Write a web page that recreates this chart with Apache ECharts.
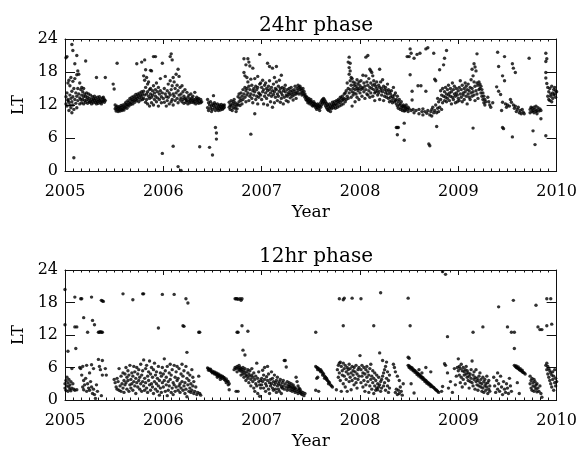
<!DOCTYPE html>
<html>
<head>
<meta charset="utf-8">
<script src="https://cdn.jsdelivr.net/npm/echarts@6/dist/echarts.min.js"></script>
<style>html,body{margin:0;padding:0;background:#fff}#c{width:580px;height:451px}</style>
</head>
<body>
<div id="c"></div>
<script>
// ---- Data: [fraction of year, LT hours] ----
var years = [2005, 2006, 2007, 2008, 2009];
var yTicks = [0, 6, 12, 18, 24];
var titles = ['24hr phase', '12hr phase'];

// 24hr phase
var p24_2005 = [[.01,13.5],[.01,12.2],[.02,20.8],[.02,11.8],[.02,14.2],[.03,12.8],[.03,16.0],[.03,13.0],[.04,11.0],[.04,16.5],[.04,12.5],[.05,13.8],[.05,15.5],[.05,12.0],[.06,17.0],[.06,13.2],[.06,11.5],[.07,23.0],[.07,14.5],[.07,12.6],[.07,10.6],[.08,21.9],[.08,16.3],[.08,13.5],[.08,12.0],[.09,2.4],[.09,15.0],[.09,11.2],[.10,13.0],[.10,19.5],[.10,16.8],[.11,12.3],[.11,14.2],[.12,21.0],[.12,17.5],[.12,13.6],[.12,11.5],[.13,18.2],[.13,15.0],[.13,12.8],[.14,17.6],[.14,14.0],[.15,16.0],[.15,13.3],[.15,12.2],[.01,20.6],
[.16,14.8],[.16,13.0],[.17,15.2],[.17,13.8],[.17,12.4],[.18,14.4],[.18,13.0],[.19,15.0],[.19,13.5],[.19,12.2],[.2,14.0],[.2,12.8],[.21,20.0],[.21,13.6],[.21,12.5],[.22,14.2],[.22,13.0],[.23,13.4],[.23,12.3],[.24,14.0],[.24,12.8],[.25,13.2],[.25,12.5],[.26,13.8],[.26,12.6],[.27,13.0],[.27,12.2],[.28,13.5],[.28,12.7],[.29,13.1],[.29,12.4],[.30,12.9],[.30,13.6],[.31,12.5],[.31,13.2],[.32,17.0],[.32,12.8],[.32,12.2],[.33,13.4],[.33,12.6],[.34,13.0],[.34,12.3],[.35,12.8],[.35,13.5],[.36,12.5],[.36,13.1],[.37,12.7],[.37,12.2],[.38,13.3],[.38,12.6],[.39,12.9],[.39,13.4],[.40,12.5],[.40,13.0],[.41,17.0],[.41,12.8],
[.49,15.8],[.50,14.9],[.51,12.0],[.51,11.3],[.52,11.6],[.52,10.9],[.53,19.6],[.53,11.2],[.53,11.8],[.54,10.8],[.54,11.4],[.55,11.1],[.55,11.7],[.56,10.9],[.56,11.5],[.57,11.2],[.57,11.9],[.58,11.0],[.58,11.6],[.59,11.3],[.59,12.0],[.60,11.1],[.60,11.7],
[.61,11.5],[.61,12.2],[.62,11.8],[.62,12.5],[.63,11.4],[.63,12.1],[.64,12.0],[.64,12.8],[.65,11.8],[.65,12.5],[.66,12.3],[.66,13.2],[.67,12.1],[.67,12.9],[.68,12.6],[.68,13.4],[.69,12.2],[.69,13.0],[.70,12.8],[.70,13.6],[.71,12.5],[.71,13.3],[.72,13.0],[.72,13.9],[.73,19.5],[.73,12.8],[.73,13.5],[.74,13.2],[.74,14.0],[.75,12.6],[.75,13.7],[.76,13.3],[.76,14.2],[.77,12.9],[.77,13.8],[.78,19.8],[.78,13.5],[.78,14.4],[.79,13.0],[.79,14.0],
[.80,17.3],[.80,14.5],[.80,13.2],[.81,20.2],[.81,16.5],[.81,13.8],[.82,18.4],[.82,15.2],[.82,12.5],[.83,17.0],[.83,14.0],[.83,13.0],[.84,15.8],[.84,14.4],[.84,12.2],[.85,16.2],[.85,13.6],[.86,14.8],[.86,13.2],[.86,11.8],[.87,18.3],[.87,15.0],[.87,14.0],[.88,18.2],[.88,13.4],[.88,12.4],[.89,14.6],[.89,13.8],[.90,20.8],[.90,15.5],[.90,12.0],[.91,14.2],[.91,13.0],[.92,20.8],[.92,14.8],[.92,13.6],[.93,16.0],[.93,12.6],[.94,14.4],[.94,13.3],[.95,15.2],[.95,11.8],[.96,14.0],[.96,13.0],[.97,16.8],[.97,14.6],[.98,13.5],[.98,12.4],[.99,19.6],[.99,3.2],[.99,14.2]];
var p24_2006 = [[.00,13.2],[.01,15.0],[.01,12.5],[.02,14.0],[.02,17.2],[.03,13.5],[.03,11.8],[.04,14.6],[.04,12.8],[.05,15.8],[.05,13.4],[.06,14.2],[.06,12.2],[.07,20.8],[.07,16.4],[.07,13.8],[.08,21.3],[.08,14.8],[.08,12.6],[.09,20.2],[.09,15.5],[.09,13.0],[.10,4.5],[.10,17.0],[.10,14.0],[.10,12.0],[.11,16.2],[.11,13.6],[.12,15.0],[.12,12.8],[.13,17.6],[.13,14.2],[.14,15.6],[.14,13.2],[.15,0.8],[.15,18.5],[.15,14.6],[.15,12.4],[.16,17.2],[.16,13.8],[.17,15.2],[.17,12.9],[.18,0.1],[.18,14.0],[.18,13.3],[.19,15.5],[.19,12.6],[.20,14.4],[.20,13.0],[.21,13.6],[.21,12.3],[.22,14.8],[.22,13.2],[.23,13.0],[.23,12.5],[.24,14.3],[.24,12.8],[.25,13.4],[.25,12.2],[.26,13.8],[.26,12.7],[.27,13.1],[.27,12.4],[.28,14.0],[.28,12.9],[.29,13.3],[.29,12.5],[.30,12.8],[.30,13.6],[.31,12.4],[.31,13.0],[.32,14.3],[.32,12.6],[.33,13.1],[.33,12.2],[.34,12.8],[.34,13.4],[.35,12.5],[.35,13.0],[.36,12.3],[.36,13.2],[.37,4.4],[.37,12.7],[.38,12.4],[.38,13.0],[.39,12.6],
[.45,13.0],[.45,11.5],[.46,12.4],[.46,11.0],[.47,12.0],[.47,4.3],[.48,12.6],[.48,11.4],[.49,11.8],[.49,10.8],[.50,12.2],[.50,11.2],[.50,2.9],[.51,11.9],[.51,13.7],[.52,11.5],[.52,12.4],[.53,7.9],[.53,11.0],[.53,12.1],[.54,6.9],[.54,11.6],[.54,5.8],[.55,11.3],[.55,12.2],[.56,11.8],[.56,11.0],[.57,12.0],[.57,11.4],[.58,11.7],[.58,11.1],[.59,12.1],[.59,11.5],[.60,11.8],[.60,11.2],[.61,11.9],[.61,11.4],[.62,12.0],[.62,11.6],
[.67,12.5],[.67,11.6],[.68,12.0],[.68,11.2],[.69,12.8],[.69,11.8],[.70,12.2],[.70,11.0],[.71,12.6],[.71,11.5],[.72,13.0],[.72,12.0],[.73,11.4],[.73,12.4],[.74,10.8],[.74,11.8],[.75,12.2],[.75,11.3],[.76,13.5],[.76,12.0],[.77,14.0],[.77,12.6],[.78,13.2],[.78,11.9],
[.79,14.2],[.79,12.8],[.80,13.6],[.80,12.2],[.81,14.8],[.81,13.0],[.82,20.4],[.82,17.9],[.82,14.0],[.83,17.3],[.83,15.2],[.83,13.4],[.84,19.3],[.84,14.6],[.84,12.6],[.85,17.0],[.85,15.0],[.85,13.8],[.86,20.4],[.86,16.2],[.86,14.2],[.87,19.8],[.87,15.4],[.87,12.8],[.88,19.1],[.88,14.8],[.88,13.6],[.89,6.7],[.89,16.7],[.89,14.0],[.90,15.6],[.90,13.2],[.91,18.7],[.91,14.6],[.91,12.4],[.92,15.0],[.92,13.8],[.93,10.4],[.93,16.8],[.93,14.4],[.94,15.4],[.94,13.0],[.95,14.8],[.95,13.6],[.96,17.2],[.96,15.2],[.96,12.2],[.97,14.2],[.97,13.4],[.98,21.2],[.98,15.8],[.98,14.0],[.99,16.0],[.99,13.8]];
var p24_2007 = [[.00,15.2],[.00,13.0],[.01,14.4],[.01,16.5],[.02,14.8],[.02,12.2],[.03,15.6],[.03,13.6],[.04,14.2],[.04,16.0],[.05,15.0],[.05,13.2],[.06,19.6],[.06,14.6],[.06,12.0],[.07,15.4],[.07,13.8],[.08,19.0],[.08,14.8],[.08,16.4],[.09,14.2],[.09,12.6],[.10,15.2],[.10,13.6],[.11,18.7],[.11,14.6],[.11,11.6],[.12,15.8],[.12,13.9],[.13,17.0],[.13,14.4],[.13,12.4],[.14,15.0],[.14,13.4],[.15,19.0],[.15,14.8],[.15,16.2],[.16,14.0],[.16,12.8],[.17,15.4],[.17,13.6],[.18,16.5],[.18,14.5],[.19,15.0],[.19,12.5],[.20,17.4],[.20,14.2],[.20,13.2],[.21,15.2],[.21,13.8],[.22,14.6],[.22,12.2],[.23,15.0],[.23,13.4],[.24,14.4],[.24,15.6],[.25,13.8],[.25,12.8],[.26,14.8],[.26,13.6],[.27,14.2],[.27,12.6],[.28,15.0],[.28,13.9],[.29,14.5],[.29,13.3],[.30,14.0],[.30,15.2],[.31,13.6],[.31,14.6],[.32,14.2],[.32,12.9],[.33,14.8],[.33,13.8],[.34,14.4],[.34,15.4],[.35,14.0],[.35,13.2],[.36,15.0],[.36,14.2],[.37,15.6],[.37,14.6],[.38,15.2],[.38,14.0],[.39,15.4],[.39,14.8],[.40,15.0],[.40,14.2],[.41,14.6],[.41,13.8],[.42,14.2],[.42,15.0],[.43,13.8],[.43,14.5],[.44,13.4],[.44,14.0],[.45,13.6],[.45,13.0],
[.46,13.4],[.46,12.8],[.47,13.0],[.47,12.4],[.48,13.2],[.48,12.6],[.49,12.8],[.49,12.2],[.50,12.5],[.50,13.0],[.51,12.0],[.51,12.6],[.52,12.3],[.52,11.8],[.53,12.6],[.53,12.0],[.54,11.8],[.54,12.3],[.55,11.5],[.55,12.1],[.56,11.8],[.56,11.2],[.57,12.2],[.57,11.6],[.58,12.0],[.58,11.4],[.59,11.8],[.59,11.0],[.60,12.4],[.60,11.6],[.61,12.8],[.61,12.0],[.62,13.0],[.62,12.4],[.63,13.2],[.63,12.6],[.64,12.9],[.64,12.2],[.65,12.6],[.65,11.8],[.66,12.3],[.66,11.5],[.67,12.0],[.67,11.2],[.68,11.8],[.68,11.0],[.69,12.2],[.69,11.4],[.70,11.6],[.70,10.8],[.71,12.0],[.71,11.3],[.72,11.8],[.72,12.5],[.73,12.2],[.73,11.5],[.74,12.6],[.74,11.9],[.75,12.2],[.75,11.4],[.76,12.8],[.76,12.0],[.77,12.6],[.77,11.6],[.78,13.0],[.78,12.3],[.79,12.8],[.79,11.8],[.80,13.4],[.80,12.5],[.81,13.2],[.81,12.0],[.82,13.6],[.82,12.8],[.83,13.0],[.83,12.2],[.84,14.0],[.84,13.2],[.85,14.2],[.85,12.6],
[.86,14.6],[.86,13.0],[.87,16.0],[.87,13.6],[.88,19.8],[.88,15.0],[.88,13.2],[.89,20.7],[.89,18.8],[.89,17.6],[.89,14.2],[.90,19.6],[.90,18.2],[.90,16.4],[.90,14.8],[.91,17.0],[.91,15.6],[.91,13.4],[.92,16.8],[.92,14.4],[.92,11.8],[.93,16.2],[.93,15.0],[.93,13.8],[.94,15.6],[.94,14.2],[.95,16.0],[.95,14.8],[.95,12.6],[.96,15.4],[.96,14.0],[.97,16.6],[.97,15.0],[.97,13.4],[.98,15.8],[.98,14.6],[.99,16.2],[.99,15.0],[.99,13.0]];
var p24_2008 = [[.00,15.5],[.00,14.2],[.01,16.4],[.01,14.8],[.02,15.2],[.02,13.6],[.03,17.4],[.03,15.0],[.04,16.0],[.04,14.4],[.05,15.4],[.05,13.2],[.06,20.7],[.06,17.3],[.06,14.8],[.07,16.2],[.07,14.0],[.08,21.0],[.08,15.6],[.08,13.8],[.09,16.8],[.09,14.6],[.10,18.5],[.10,15.2],[.10,13.4],[.11,18.2],[.11,16.0],[.11,14.2],[.12,17.9],[.12,15.0],[.13,17.3],[.13,15.6],[.13,13.6],[.14,16.4],[.14,14.8],[.15,15.8],[.15,14.2],[.15,12.8],[.16,15.4],[.16,14.4],[.17,16.2],[.17,15.0],[.18,14.6],[.18,13.8],[.19,15.6],[.19,14.2],[.20,18.5],[.20,15.2],[.20,13.0],[.21,16.2],[.21,14.6],[.22,15.0],[.22,13.8],[.23,16.6],[.23,14.4],[.24,15.4],[.24,12.8],[.25,14.8],[.25,13.6],[.26,15.2],[.26,14.2],[.27,14.6],[.27,13.4],[.28,15.8],[.28,14.0],[.29,14.8],[.29,13.2],[.30,14.4],[.30,12.6],
[.31,14.0],[.31,13.4],[.32,14.6],[.32,12.8],[.33,13.6],[.33,12.4],[.34,15.2],[.34,13.2],[.35,13.8],[.35,12.6],[.36,14.2],[.36,12.8],[.37,7.9],[.37,13.0],[.37,12.2],[.38,7.9],[.38,6.6],[.38,13.6],[.38,11.8],[.39,7.9],[.39,12.6],[.39,11.4],[.40,13.0],[.40,12.0],[.41,12.2],[.41,11.2],[.42,12.6],[.42,11.6],[.43,11.8],[.43,11.0],[.44,12.0],[.44,11.4],[.45,8.7],[.45,5.6],[.45,11.8],[.45,10.9],[.46,11.6],[.46,11.0],[.47,11.4],[.47,12.0],[.48,20.8],[.48,11.2],[.49,11.6],[.49,10.8],[.50,20.8],[.50,11.3],
[.51,22.2],[.51,17.5],[.52,21.4],[.52,11.0],[.53,14.5],[.53,12.9],[.54,11.2],[.55,20.5],[.55,10.6],[.57,11.0],[.58,21.2],[.59,15.5],[.60,11.2],[.60,10.4],[.61,21.4],[.62,15.5],[.63,10.8],[.64,11.3],[.64,10.2],[.66,10.8],[.67,22.2],[.67,14.5],[.68,10.5],[.69,22.4],[.69,11.0],[.70,4.9],[.71,10.2],[.71,4.6],[.72,10.8],[.73,11.2],[.73,10.0],[.74,11.6],[.75,10.6],[.75,21.4],[.76,16.7],[.76,11.0],[.77,16.4],[.77,12.0],[.78,8.1],[.78,10.6],[.79,11.4],[.79,13.2],[.80,10.8],[.80,12.6],[.81,18.4],[.81,11.6],[.82,13.0],[.82,14.6],[.83,11.2],[.83,13.8],[.84,15.0],[.84,12.4],[.85,19.3],[.85,13.6],[.86,20.5],[.86,14.4],[.86,12.8],[.87,13.4],[.87,15.2],[.88,21.9],[.88,14.0],[.88,12.6],[.89,14.8],[.89,13.2],[.90,15.6],[.90,13.8],[.91,14.2],[.91,12.8],[.92,15.0],[.92,13.6],[.93,14.4],[.93,12.2],[.94,16.0],[.94,13.4],[.95,14.8],[.95,13.0],[.96,15.4],[.96,14.0],[.97,13.6],[.97,12.4],[.98,15.0],[.98,14.2],[.99,13.8],[.99,12.6]];
var p24_2009 = [[.00,14.6],[.00,13.2],[.01,15.2],[.01,12.8],[.02,14.0],[.02,16.4],[.03,14.8],[.03,13.4],[.04,15.6],[.04,12.6],[.05,14.2],[.05,13.8],[.06,15.0],[.06,13.0],[.07,14.4],[.07,16.0],[.08,15.4],[.08,13.6],[.09,14.8],[.09,12.2],[.10,14.0],[.10,15.8],[.11,13.4],[.11,14.6],[.12,15.2],[.12,13.0],[.13,14.2],[.13,16.6],[.14,18.5],[.14,15.0],[.14,13.6],[.15,7.8],[.15,17.3],[.15,14.4],[.16,19.5],[.16,16.2],[.16,13.8],[.17,18.9],[.17,15.4],[.17,12.8],[.18,18.2],[.18,14.6],[.19,21.3],[.19,16.0],[.19,14.0],[.20,15.6],[.20,13.2],[.21,16.2],[.21,14.8],[.22,15.8],[.22,15.0],[.23,15.4],[.23,14.2],[.24,14.8],[.24,13.6],[.25,14.2],[.25,13.0],[.26,13.6],[.26,12.4],[.27,13.0],[.27,12.0],[.28,12.6],
[.30,13.4],[.31,12.6],[.32,12.0],[.33,11.6],[.35,12.4],[.40,21.6],[.47,20.8],[.41,19.0],[.45,17.3],[.47,16.4],[.39,15.3],[.41,14.5],[.43,13.9],[.45,12.5],[.48,12.2],[.45,7.9],[.46,7.7],[.44,11.0],[.49,11.6],[.50,12.0],
[.55,19.5],[.56,18.7],[.58,17.9],[.54,12.5],[.56,12.0],[.57,11.4],[.58,11.8],[.59,10.8],[.60,11.2],[.61,11.6],[.62,10.6],[.63,11.0],[.64,10.4],[.65,11.2],[.66,10.7],[.67,10.4],[.55,6.2],[.52,11.8],[.53,13.0],
[.72,20.5],[.73,11.2],[.73,10.6],[.74,11.6],[.75,10.8],[.75,11.4],[.76,7.3],[.76,11.0],[.77,10.6],[.77,11.6],[.78,4.8],[.78,11.2],[.79,10.8],[.79,11.8],[.80,11.0],[.80,10.4],[.81,11.5],[.82,10.9],[.83,11.3],[.84,9.5],[.84,11.0],
[.89,21.4],[.89,19.9],[.90,20.4],[.89,17.9],[.89,16.9],[.90,15.9],[.89,6.4],[.91,15.2],[.91,13.6],[.92,14.4],[.92,13.0],[.93,15.0],[.93,12.8],[.94,14.0],[.94,13.6],[.95,15.4],[.95,12.6],[.96,14.2],[.96,13.2],[.97,14.8],[.97,13.8],[.98,15.2],[.98,14.0],[.99,14.6],[.99,13.4],[1.0,14.4]];

// 12hr phase
var p12_2005 = [[.00,20.4],[.10,19.0],[.16,18.7],[.17,18.7],[.27,19.0],[.37,18.4],[.38,18.3],[.39,18.2],[.59,19.6],[.69,18.5],[.79,19.6],[.80,19.6],[.99,19.5],
[.00,13.9],[.10,13.5],[.12,13.5],[.19,15.2],[.28,14.7],[.30,13.9],[.23,12.5],[.34,12.5],[.35,12.5],[.36,12.6],[.37,12.5],[.38,12.5],[.95,13.3],[.03,9.0],[.11,9.5],[.38,7.3],
[.00,3.0],[.00,2.2],[.01,3.6],[.01,1.8],[.02,2.6],[.02,4.2],[.03,3.2],[.03,1.6],[.04,2.4],[.04,3.8],[.05,2.0],[.05,2.8],[.06,3.4],[.06,1.7],[.07,2.2],[.07,5.8],[.08,3.0],[.09,2.0],[.10,1.8],[.12,1.9],
[.15,6.0],[.16,5.8],[.17,4.6],[.18,6.2],[.18,2.4],[.19,3.6],[.19,1.9],[.20,2.8],[.21,4.0],[.22,6.4],[.22,1.6],[.23,3.0],[.24,2.2],[.25,5.0],[.25,1.8],[.26,3.4],[.27,6.5],[.27,2.4],[.28,1.2],[.29,5.8],[.29,2.0],[.30,1.0],[.31,0.3],[.32,2.8],[.33,1.6],[.34,7.5],[.35,6.2],[.36,5.6],[.37,0.8],[.38,4.6],[.41,5.8],[.42,4.6],
[.50,3.8],[.51,3.2],[.52,2.4],[.53,4.0],[.53,2.0],[.54,3.4],[.55,1.8],[.55,5.8],[.56,2.6],[.57,4.4],[.57,1.6],[.58,3.0],[.59,5.0],[.59,2.2],[.60,3.6],[.60,1.4],[.61,4.8],[.61,2.8],[.62,6.0],[.62,3.2],[.63,4.2],[.63,2.0],[.64,5.4],[.64,3.6],[.65,1.6],[.65,4.6],[.66,2.8],[.66,6.4],[.67,3.8],[.67,2.2],[.68,5.0],[.68,3.0],[.69,4.4],[.69,1.8],[.70,6.2],[.70,3.4],[.71,2.6],[.71,5.2],[.72,4.0],[.72,1.2],[.73,3.2],[.73,6.0],[.74,4.8],[.74,2.4],[.75,3.6],[.75,5.6],[.76,2.0],[.76,4.2],[.77,6.6],[.77,3.0],[.78,1.6],[.78,4.6],[.79,3.4],[.79,5.4],[.80,2.6],[.80,7.4],[.81,4.0],[.81,1.8],[.82,5.8],[.82,3.2],[.83,2.2],[.83,6.4],[.84,4.4],[.84,1.4],[.85,3.6],[.85,5.2],[.86,7.2],[.86,2.8],[.87,4.8],[.87,1.8],[.88,3.0],[.88,6.0],[.89,4.2],[.89,2.4],[.90,5.6],[.90,1.2],[.91,3.4],[.91,6.8],[.92,2.0],[.92,4.6],[.93,5.2],[.93,3.0],[.94,1.6],[.94,4.0],[.95,6.2],[.95,2.6],[.96,3.6],[.96,0.9],[.97,5.0],[.97,2.2],[.98,4.4],[.98,1.4],[.99,3.2],[.99,6.0]];
var p12_2006 = [[.00,2.4],[.00,4.8],[.01,7.6],[.01,3.6],[.02,1.6],[.02,5.4],[.03,2.8],[.03,4.2],[.04,0.8],[.04,6.2],[.05,3.4],[.05,1.8],[.06,5.0],[.06,2.6],[.07,6.6],[.07,3.8],[.08,1.4],[.08,4.6],[.09,2.2],[.09,5.6],[.10,3.2],[.10,1.0],[.11,6.4],[.11,2.8],[.12,4.2],[.12,1.6],[.13,5.2],[.13,2.4],[.14,3.6],[.14,6.2],[.15,1.8],[.15,4.0],[.16,2.6],[.16,5.8],[.17,3.0],[.17,1.4],[.18,4.8],[.18,2.2],[.19,6.6],[.19,3.4],[.20,1.8],[.20,4.4],[.21,2.6],[.21,5.4],[.22,3.2],[.22,1.2],[.23,6.2],[.23,2.0],[.24,4.0],[.24,0.6],[.25,2.8],[.25,5.0],[.26,1.6],[.26,3.6],[.27,2.2],[.27,4.6],[.28,1.4],[.28,3.0],[.29,5.6],[.29,1.8],[.30,2.6],[.30,4.2],[.31,1.2],[.31,3.4],[.32,1.6],[.33,2.4],[.34,1.0],[.35,1.4],[.36,4.4],[.37,1.2],[.38,0.9],
[.11,19.5],[.23,18.7],[.25,17.9],[.20,13.7],[.21,13.6],[.24,8.8],[.36,12.5],[.37,12.5],
[.45,5.9],[.46,5.8],[.46,5.5],[.47,5.6],[.48,5.4],[.48,5.7],[.49,5.2],[.50,5.3],[.50,5.0],[.51,5.1],[.52,4.8],[.52,5.2],[.53,4.9],[.54,4.6],[.54,5.0],[.55,4.7],[.56,4.4],[.56,4.8],[.57,4.5],[.58,4.2],[.58,4.6],[.59,4.3],[.60,4.0],[.60,4.4],[.61,4.2],[.62,3.8],[.62,4.1],[.63,3.6],[.64,3.9],[.64,3.2],[.65,3.5],[.66,2.8],[.66,3.4],[.67,1.9],[.67,3.0],[.55,4.2],[.58,3.8],
[.73,18.7],[.74,18.7],[.75,18.7],[.76,18.6],[.78,18.7],[.79,18.4],[.80,18.7],[.75,12.5],[.76,12.5],[.80,13.7],[.86,12.7],[.81,9.2],[.83,8.3],
[.72,5.6],[.73,6.0],[.74,5.8],[.74,1.6],[.75,6.2],[.75,5.2],[.76,5.9],[.76,1.6],[.77,5.6],[.77,6.4],[.78,5.4],[.78,6.0],[.79,5.8],[.79,4.6],[.80,5.2],[.80,5.6],[.81,6.0],[.81,4.8],[.82,5.4],[.82,4.2],[.83,5.0],[.83,5.8],[.84,4.6],[.84,3.6],[.85,5.2],[.85,4.4],[.86,4.0],[.86,5.6],[.87,4.8],[.87,3.2],[.88,4.4],[.88,5.4],[.89,3.8],[.89,2.6],[.90,4.6],[.90,5.8],[.91,3.4],[.91,4.2],[.92,2.2],[.92,5.0],[.93,3.8],[.93,1.6],[.94,4.4],[.94,3.0],[.95,2.6],[.95,6.8],[.96,4.0],[.96,1.2],[.97,3.4],[.97,5.2],[.98,2.8],[.98,0.7],[.99,3.6],[.99,2.2]];
var p12_2007 = [[.00,4.0],[.00,2.8],[.01,5.5],[.01,3.4],[.02,4.6],[.02,2.2],[.03,3.8],[.03,6.0],[.04,3.0],[.04,1.6],[.05,4.3],[.05,2.6],[.06,6.2],[.06,3.6],[.07,2.0],[.07,4.8],[.08,3.2],[.08,1.2],[.09,3.8],[.09,2.6],[.10,5.2],[.10,3.0],[.11,2.2],[.11,4.0],[.12,3.4],[.12,1.8],[.13,2.8],[.13,4.6],[.14,3.2],[.14,2.0],[.15,3.6],[.15,1.4],[.16,2.6],[.16,4.2],[.17,3.0],[.17,2.0],[.18,3.4],[.18,1.6],[.19,2.8],[.19,3.8],[.20,2.4],[.20,1.2],[.21,3.2],[.21,2.2],[.22,2.6],[.22,3.6],[.23,7.3],[.23,2.0],[.24,7.3],[.24,3.0],[.25,6.1],[.25,2.4],[.26,3.4],[.26,1.8],[.27,2.8],[.27,2.2],[.28,2.5],[.28,3.2],[.29,1.8],[.29,2.6],[.30,2.2],[.30,3.0],[.31,2.4],[.31,1.6],[.32,2.8],[.32,2.0],[.33,1.8],[.33,2.4],[.34,2.2],[.34,1.4],[.35,4.2],[.35,2.0],[.36,3.4],[.36,1.6],[.37,2.6],[.37,1.2],[.38,2.2],[.38,1.8],[.39,1.4],[.39,2.0],[.40,1.2],[.40,1.6],[.41,1.0],[.42,1.4],[.43,0.8],[.44,1.2],
[.55,12.5],
[.55,6.2],[.56,6.0],[.57,5.9],[.57,5.6],[.58,5.8],[.59,5.5],[.60,5.6],[.60,5.2],[.61,5.3],[.62,5.0],[.62,4.6],[.63,4.8],[.64,4.4],[.64,4.0],[.65,4.2],[.66,3.8],[.66,4.0],[.67,3.6],[.68,3.4],[.68,3.0],[.69,3.2],[.70,2.8],[.71,2.6],[.72,2.4],[.56,4.0],[.57,4.2],[.58,1.6],[.55,1.8],
[.76,1.9],[.77,5.6],[.78,6.4],[.78,4.2],[.79,6.8],[.79,5.0],[.80,7.0],[.80,3.6],[.81,6.2],[.81,1.6],[.82,5.4],[.82,4.6],[.83,6.8],[.83,3.0],[.84,5.8],[.84,4.4],[.85,6.4],[.85,2.4],[.86,5.2],[.86,3.8],[.87,6.0],[.87,1.6],[.88,4.8],[.88,5.6],[.89,6.6],[.89,3.4],[.90,4.2],[.90,5.8],[.91,1.9],[.91,5.0],[.92,6.2],[.92,3.6],[.93,4.6],[.93,5.4],[.94,2.8],[.94,6.0],[.95,4.0],[.95,5.2],[.96,3.2],[.96,6.4],[.97,4.8],[.97,2.2],[.98,5.6],[.98,3.8],[.99,4.4],[.99,6.0],
[.79,18.7],[.83,18.5],[.84,18.8],[.92,18.8],[.83,13.7]];
var p12_2008 = [[.01,18.7],[.21,19.8],[.49,18.8],[.51,13.7],[.14,13.7],[.84,23.7],[.87,23.2],[.89,11.7],
[.00,8.2],[.01,5.6],[.01,3.2],[.02,6.4],[.02,4.4],[.03,2.4],[.03,5.0],[.04,6.0],[.04,3.6],[.05,1.6],[.05,4.8],[.06,5.6],[.06,2.8],[.07,4.2],[.07,6.2],[.08,3.4],[.08,5.2],[.09,1.4],[.09,4.6],[.10,5.8],[.10,2.6],[.11,3.8],[.11,6.6],[.12,4.4],[.12,2.0],[.13,5.4],[.13,3.2],[.14,1.2],[.14,4.0],[.15,2.6],[.15,5.0],[.16,3.6],[.16,1.8],[.17,4.6],[.17,2.2],[.18,1.9],[.18,3.0],[.19,2.4],[.19,4.2],[.20,8.7],[.20,2.8],[.21,3.4],[.21,1.6],[.22,3.8],[.22,2.2],[.23,4.4],[.23,7.3],[.24,5.0],[.24,2.6],[.25,5.6],[.25,3.2],[.26,6.2],[.26,1.8],[.27,7.0],[.27,4.0],[.28,2.6],[.28,5.2],[.29,1.4],[.29,3.6],[.30,2.2],[.30,4.6],
[.34,6.6],[.35,6.0],[.36,5.2],[.36,1.4],[.37,2.0],[.38,4.4],[.38,1.0],[.39,1.8],[.40,3.6],[.40,1.2],[.41,2.4],[.42,1.6],[.43,0.9],[.44,3.0],[.49,7.9],[.50,7.7],
[.49,6.4],[.50,6.3],[.51,6.1],[.52,6.0],[.53,5.9],[.54,5.7],[.55,5.5],[.56,5.4],[.57,5.2],[.58,5.0],[.59,4.9],[.60,4.7],[.61,4.6],[.62,4.4],[.63,4.2],[.64,4.1],[.65,3.9],[.66,3.7],[.67,3.6],[.68,3.4],[.69,3.2],[.70,3.1],[.71,2.9],[.72,2.8],[.73,2.6],[.74,2.4],[.75,2.3],[.76,2.1],[.77,1.9],[.78,1.8],[.79,1.6],[.80,1.4],
[.50,6.0],[.52,5.7],[.54,5.4],[.56,5.1],[.58,4.7],[.60,4.4],[.62,4.1],[.64,3.8],[.66,3.4],[.68,3.1],[.70,2.8],[.72,2.5],[.55,1.3],[.60,5.6],[.63,5.0],[.52,3.0],[.67,6.0],[.72,5.2],
[.83,1.6],[.84,2.5],[.86,6.7],[.87,6.4],[.89,5.0],[.90,2.2],[.92,3.4],[.94,1.4],[.96,5.8],[.97,2.8],[.98,4.4],[.99,6.0]];
var p12_2009 = [[.00,7.6],[.00,5.4],[.01,4.6],[.01,6.2],[.02,3.2],[.02,5.8],[.03,6.6],[.03,4.2],[.04,5.4],[.04,2.4],[.05,6.0],[.05,3.8],[.06,5.2],[.06,4.6],[.07,5.6],[.07,3.0],[.08,4.8],[.08,6.2],[.09,4.2],[.09,5.4],[.10,3.6],[.10,5.0],[.11,4.4],[.11,2.2],[.12,4.8],[.12,3.4],[.13,5.6],[.13,4.0],[.14,7.2],[.14,3.2],[.15,4.6],[.15,2.6],[.16,3.8],[.16,5.2],[.17,4.2],[.17,2.0],[.18,3.4],[.18,5.6],[.19,2.8],[.19,4.0],[.20,3.6],[.20,1.8],[.21,4.4],[.21,2.6],[.22,3.2],[.22,5.0],[.23,2.4],[.23,3.8],[.24,3.0],[.24,1.6],[.25,2.2],[.25,4.2],[.26,3.4],[.26,1.4],[.27,2.6],[.27,3.8],[.28,1.8],[.28,3.0],[.29,2.4],[.29,4.4],[.30,3.2],[.30,1.2],[.31,2.0],[.31,3.6],[.32,2.6],[.32,1.6],
[.15,12.5],[.25,13.5],[.41,17.2],[.56,18.4],[.50,13.5],[.54,12.5],[.57,12.5],[.57,9.5],[.79,17.5],[.81,13.5],[.83,13.0],[.85,13.0],[.90,18.7],[.94,18.7],[.90,13.7],[.95,14.0],
[.36,4.2],[.37,2.6],[.38,1.4],[.39,3.6],[.40,5.0],[.40,2.0],[.41,3.0],[.42,1.6],[.43,4.4],[.44,2.4],[.45,1.0],[.46,3.4],[.47,2.0],[.48,1.4],[.49,3.0],[.50,2.2],[.51,1.2],[.52,4.0],[.53,2.6],[.54,1.6],
[.57,6.4],[.58,6.2],[.59,6.0],[.59,6.3],[.60,5.9],[.61,5.8],[.61,6.1],[.62,5.6],[.63,5.5],[.63,5.8],[.64,5.4],[.65,5.2],[.65,5.5],[.66,5.1],[.67,5.0],[.68,4.8],[.60,3.2],[.62,1.2],
[.73,4.4],[.73,3.0],[.74,3.6],[.74,2.2],[.75,4.0],[.75,1.8],[.76,3.2],[.76,2.6],[.77,3.8],[.77,1.6],[.78,2.4],[.78,3.4],[.79,2.0],[.79,2.8],[.80,1.5],[.80,3.0],[.81,2.2],[.82,1.6],[.83,2.6],[.84,1.2],[.85,0.5],
[.89,6.4],[.90,6.8],[.90,5.6],[.91,6.2],[.91,4.8],[.92,5.8],[.92,4.2],[.93,5.4],[.93,3.6],[.94,5.0],[.94,3.0],[.95,4.6],[.95,2.4],[.96,5.2],[.96,3.8],[.97,4.4],[.97,1.8],[.98,3.2],[.98,5.6],[.99,4.0],[.99,2.6],[1.0,3.4]];

var set24 = [p24_2005, p24_2006, p24_2007, p24_2008, p24_2009];
var set12 = [p12_2005, p12_2006, p12_2007, p12_2008, p12_2009];

function build(set) {
  var out = [];
  set.forEach(function (arr, i) {
    arr.forEach(function (p) { out.push([years[i] + p[0], p[1]]); });
  });
  return out;
}

var FONT = 'DejaVu Serif';
var INK = '#000';
var grids = [
  { left: 65, top: 39, width: 492, height: 132 },
  { left: 65, top: 270, width: 492, height: 132 }
];

var xAxes = [], yAxes = [];
grids.forEach(function (g, i) {
  var base = {
    type: 'value', gridIndex: i, min: 2005, max: 2010, interval: 1,
    splitLine: { show: false },
    axisLine: { show: true, onZero: false, lineStyle: { color: '#111', width: 1 } },
    axisTick: { show: true, inside: true, length: 5, lineStyle: { color: '#111' } },
    minorTick: { show: true, splitNumber: 12, length: 2.5, lineStyle: { color: '#111' } },
    minorSplitLine: { show: false }
  };
  xAxes.push(Object.assign({}, base, {
    position: 'bottom',
    name: 'Year', nameLocation: 'middle', nameGap: 33,
    nameTextStyle: { fontFamily: FONT, fontSize: 17, color: INK },
    axisLabel: { fontFamily: FONT, fontSize: 16, color: INK, margin: 13, formatter: function (v) { return String(Math.round(v)); } }
  }));
  xAxes.push(Object.assign({}, base, { position: 'top', axisLabel: { show: false } }));
  var ybase = {
    type: 'value', gridIndex: i, min: 0, max: 24, interval: 6,
    splitLine: { show: false },
    axisLine: { show: true, onZero: false, lineStyle: { color: '#111', width: 1 } },
    axisTick: { show: true, inside: true, length: 10, lineStyle: { color: '#111' } }
  };
  yAxes.push(Object.assign({}, ybase, {
    position: 'left',
    name: 'LT', nameLocation: 'middle', nameGap: 38, nameRotate: 90,
    nameTextStyle: { fontFamily: FONT, fontSize: 16, color: INK },
    axisLabel: { fontFamily: FONT, fontSize: 16, color: INK, margin: 7,
      formatter: function (v) { return yTicks.indexOf(v) >= 0 ? String(v) : ''; } }
  }));
  yAxes.push(Object.assign({}, ybase, { position: 'right', axisLabel: { show: false } }));
});

var option = {
  animation: false,
  backgroundColor: '#fff',
  title: [
    { text: titles[0], left: 311, textAlign: 'center', top: 11, textStyle: { fontFamily: FONT, fontSize: 20, fontWeight: 'normal', color: INK } },
    { text: titles[1], left: 311, textAlign: 'center', top: 242, textStyle: { fontFamily: FONT, fontSize: 20, fontWeight: 'normal', color: INK } }
  ],
  grid: grids,
  xAxis: xAxes,
  yAxis: yAxes,
  series: [
    { type: 'scatter', xAxisIndex: 0, yAxisIndex: 0, data: build(set24), symbolSize: 3.4, itemStyle: { color: INK }, silent: true },
    { type: 'scatter', xAxisIndex: 2, yAxisIndex: 2, data: build(set12), symbolSize: 3.4, itemStyle: { color: INK }, silent: true }
  ]
};

var chart = echarts.init(document.getElementById('c'), null, { renderer: 'canvas' });
chart.setOption(option);
</script>
</body>
</html>
